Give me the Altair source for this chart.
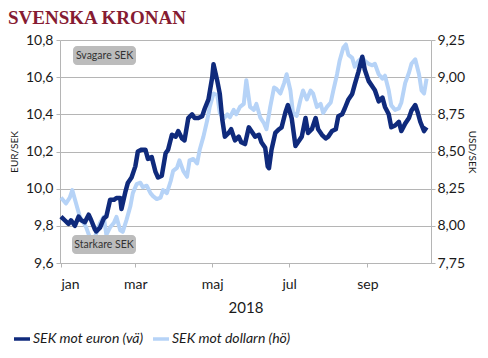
import altair as alt
import pandas as pd

# ---- data ----
eur_days = [0, 3, 6, 8, 11, 14, 16, 19, 22, 24, 27, 28, 31, 34, 36, 39, 42, 44, 47, 48,
            51, 53, 56, 59, 61, 64, 67, 69, 72, 75, 77, 80, 83, 85, 88, 91, 93, 96, 98, 101,
            104, 106, 109, 112, 114, 117, 120, 121, 124, 126, 128, 130, 133, 135, 138, 141, 143, 146, 149, 151,
            154, 157, 159, 162, 164, 165, 167, 170, 173, 175, 178, 180, 183, 186, 188, 191, 194, 196, 199, 202,
            204, 207, 210, 212, 215, 218, 220, 223, 225, 228, 231, 233, 236, 239, 241, 244, 247, 249, 252, 255,
            257, 260, 262, 265, 268, 270, 273, 276, 278, 281, 283, 285, 288, 290]
eur_vals = [9.85, 9.83, 9.81, 9.83, 9.80, 9.85, 9.83, 9.82, 9.86, 9.83, 9.78, 9.77, 9.79, 9.84, 9.85, 9.94, 9.94, 9.95, 9.95, 9.89,
            9.98, 10.03, 10.06, 10.12, 10.20, 10.21, 10.21, 10.16, 10.17, 10.09, 10.06, 10.07, 10.19, 10.21, 10.29, 10.28, 10.31, 10.27, 10.26, 10.38,
            10.40, 10.38, 10.38, 10.39, 10.43, 10.48, 10.60, 10.67, 10.58, 10.51, 10.37, 10.28, 10.30, 10.32, 10.26, 10.28, 10.25, 10.24, 10.33, 10.31,
            10.28, 10.29, 10.25, 10.22, 10.12, 10.11, 10.21, 10.30, 10.32, 10.33, 10.41, 10.45, 10.38, 10.23, 10.25, 10.28, 10.38, 10.30, 10.32, 10.38,
            10.32, 10.29, 10.27, 10.28, 10.31, 10.32, 10.39, 10.40, 10.43, 10.48, 10.51, 10.56, 10.63, 10.71, 10.64, 10.58, 10.55, 10.53, 10.47, 10.49,
            10.44, 10.40, 10.33, 10.34, 10.36, 10.31, 10.35, 10.38, 10.42, 10.45, 10.41, 10.36, 10.31, 10.33]

usd_days = [0, 2, 4, 7, 9, 12, 15, 18, 20, 23, 26, 28, 31, 34, 36, 39, 42, 44, 47, 49,
            52, 55, 57, 60, 63, 65, 68, 71, 73, 76, 79, 81, 84, 87, 89, 92, 94, 97, 100, 102,
            105, 108, 110, 113, 116, 118, 121, 124, 126, 129, 132, 134, 137, 139, 142, 145, 147, 150, 153, 155,
            158, 161, 163, 166, 169, 171, 174, 177, 179, 182, 184, 187, 190, 192, 195, 198, 200, 203, 206, 208,
            211, 214, 216, 219, 221, 224, 226, 228, 231, 233, 236, 239, 241, 244, 247, 249, 252, 255, 257, 260,
            262, 265, 268, 270, 273, 276, 278, 281, 284, 286, 288, 290]
usd_vals = [8.19, 8.17, 8.15, 8.19, 8.24, 8.15, 8.06, 8.02, 7.99, 7.92, 7.90, 7.95, 8.02, 8.06, 7.94, 7.99, 8.02, 8.06, 7.97, 7.96,
            8.04, 8.13, 8.22, 8.28, 8.29, 8.26, 8.27, 8.22, 8.20, 8.18, 8.19, 8.24, 8.22, 8.30, 8.37, 8.39, 8.44, 8.37, 8.33, 8.44,
            8.45, 8.42, 8.51, 8.60, 8.71, 8.80, 8.89, 8.88, 8.76, 8.72, 8.75, 8.73, 8.78, 8.75, 8.80, 8.82, 8.98, 8.80, 8.78, 8.82,
            8.73, 8.69, 8.65, 8.80, 8.93, 8.92, 8.89, 8.96, 9.02, 8.91, 8.76, 8.74, 8.85, 8.91, 8.85, 8.91, 8.89, 8.80, 8.82, 8.76,
            8.80, 8.83, 8.91, 9.02, 9.11, 9.20, 9.22, 9.15, 9.13, 9.07, 9.11, 9.13, 9.11, 9.09, 9.08, 9.09, 9.02, 8.99, 9.01, 8.91,
            8.81, 8.78, 8.79, 8.83, 8.96, 9.03, 9.09, 9.12, 9.02, 8.91, 8.89, 8.99]

series_names = ["SEK mot euron (vä)", "SEK mot dollarn (hö)"]
series_colors = ["#0f2a7c", "#b6d3f7"]
eur_ticks = [9.6, 9.8, 10.0, 10.2, 10.4, 10.6, 10.8]
usd_ticks = [7.75, 8.0, 8.25, 8.5, 8.75, 9.0, 9.25]
title_text = "SVENSKA KRONAN"
year_label = "2018"
note_top = "Svagare SEK"
note_bottom = "Starkare SEK"

start = pd.Timestamp("2018-01-01")


def to_iso(days):
    return [(start + pd.Timedelta(days=d)).strftime("%Y-%m-%dT00:00:00") for d in days]


eur_df = pd.DataFrame({"date": to_iso(eur_days), "value": eur_vals, "series": series_names[0]})
usd_df = pd.DataFrame({"date": to_iso(usd_days), "value": usd_vals, "series": series_names[1]})

FONT = "Lato"
GRID = "#b5b5b5"
TXT = "#1a1a1a"

month_expr = "['jan','feb','mar','apr','maj','jun','jul','aug','sep','okt','nov','dec'][month(datum.value)]"

x_enc = alt.X(
    "date:T",
    scale=alt.Scale(domain=[alt.DateTime(year=2017, month=12, date=31, hours=6),
                            alt.DateTime(year=2018, month=10, date=21, hours=12)]),
    axis=alt.Axis(
        values=[alt.DateTime(year=2018, month=m, date=1) for m in [1, 3, 5, 7, 9]],
        labelExpr=month_expr, grid=False, title=year_label,
        labelFont=FONT, labelFontSize=14, labelColor=TXT, labelPadding=10,
        titleFont=FONT, titleFontSize=15, titleFontWeight="normal", titleColor=TXT, titlePadding=9,
        domainColor=GRID, tickColor=GRID, tickSize=4,
    ),
)

color_enc = alt.Color(
    "series:N",
    scale=alt.Scale(domain=series_names, range=series_colors),
    legend=alt.Legend(
        orient="none", legendX=-48, legendY=289, direction="horizontal", title=None,
        symbolType="stroke", symbolStrokeWidth=3.5, symbolSize=256,
        labelFont=FONT, labelFontSize=14, labelFontStyle="italic", labelColor=TXT,
        columnPadding=2, labelOffset=1,
    ),
)

usd_line = alt.Chart(usd_df).mark_line(strokeWidth=4, strokeJoin="round").encode(
    x=x_enc,
    y=alt.Y("value:Q",
            scale=alt.Scale(domain=[7.75, 9.25], nice=False, zero=False),
            axis=alt.Axis(orient="right", values=usd_ticks, grid=False,
                          labelExpr="replace(format(datum.value,'.2f'),'.',',')",
                          labelFont=FONT, labelFontSize=14, labelColor=TXT, labelPadding=2,
                          tickColor=GRID, tickSize=4, domainColor=GRID,
                          title="USD/SEK", titleFont=FONT, titleFontSize=10,
                          titleFontWeight="normal", titleColor=TXT, titlePadding=2)),
    color=color_enc,
)

eur_line = alt.Chart(eur_df).mark_line(strokeWidth=4.5, strokeJoin="round").encode(
    x=x_enc,
    y=alt.Y("value:Q",
            scale=alt.Scale(domain=[9.6, 10.8], nice=False, zero=False),
            axis=alt.Axis(orient="left", values=eur_ticks, grid=True, gridColor=GRID,
                          labelExpr="replace(format(datum.value,'.1f'),'.',',')",
                          labelFont=FONT, labelFontSize=14, labelColor=TXT, labelPadding=3,
                          tickColor=GRID, tickSize=4, domainColor=GRID,
                          title="EUR/SEK", titleFont=FONT, titleFontSize=10,
                          titleFontWeight="normal", titleColor=TXT, titlePadding=6)),
    color=color_enc,
)

notes_df = pd.DataFrame({"note": [note_top]})
notes_df2 = pd.DataFrame({"note": [note_bottom]})

box_top = alt.Chart(notes_df).mark_rect(cornerRadius=4, color="#bcbcbc").encode(
    x=alt.value(13), x2=alt.value(76), y=alt.value(6), y2=alt.value(25))
txt_top = alt.Chart(notes_df).mark_text(font=FONT, fontSize=10.5, color="#333333").encode(
    x=alt.value(44.5), y=alt.value(15.5), text="note:N")
box_bot = alt.Chart(notes_df2).mark_rect(cornerRadius=4, color="#bcbcbc").encode(
    x=alt.value(12), x2=alt.value(76), y=alt.value(195), y2=alt.value(214))
txt_bot = alt.Chart(notes_df2).mark_text(font=FONT, fontSize=10.5, color="#333333").encode(
    x=alt.value(44), y=alt.value(204.5), text="note:N")

title_df = pd.DataFrame({"t": [title_text]})
title_mark = alt.Chart(title_df).mark_text(
    align="left", baseline="alphabetic", font="Liberation Serif", fontWeight="bold",
    fontSize=19, color="#861b32").encode(x=alt.value(-52), y=alt.value(-16), text="t:N")

chart = alt.layer(
    usd_line, eur_line, box_top, txt_top, box_bot, txt_bot, title_mark
).resolve_scale(y="independent").properties(
    width=371, height=223,
    autosize=alt.AutoSizeParams(type="none"),
    padding={"left": 52, "top": 32, "right": 49, "bottom": 87},
).configure_view(stroke=None)

chart.save("out.html", embed_options={"renderer": "svg", "actions": False})
